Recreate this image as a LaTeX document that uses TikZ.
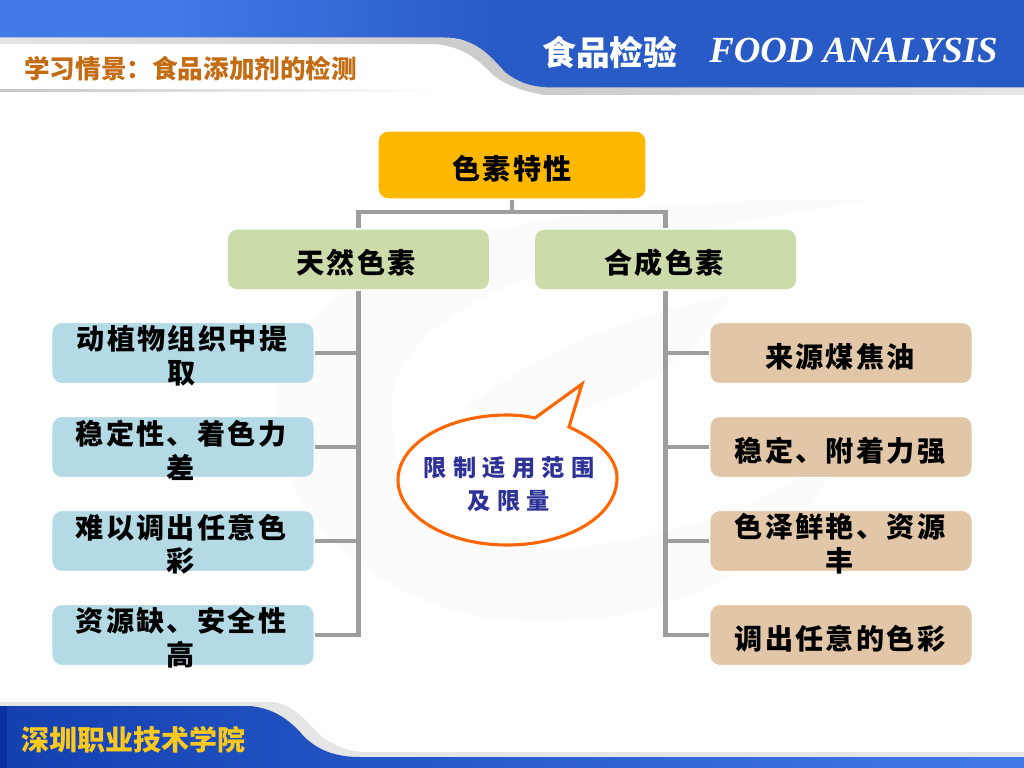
\documentclass[tikz,border=0pt]{standalone}
\usepackage{fontspec}
\setmainfont{Noto Sans CJK SC}
\newfontfamily\boxfont[LetterSpace=8]{Noto Sans CJK SC}
\newfontfamily\notefont[LetterSpace=27]{Noto Sans CJK SC}
\newfontfamily\enfont{Liberation Serif}
\definecolor{barblue}{RGB}{41,91,199}
\definecolor{barlight}{RGB}{66,122,232}
\definecolor{footdark}{RGB}{20,64,176}
\definecolor{footedge}{RGB}{10,50,160}
\definecolor{linegray}{RGB}{158,158,158}
\definecolor{capgold}{RGB}{255,184,0}
\definecolor{headgreen}{RGB}{204,219,170}
\definecolor{leftblue}{RGB}{180,218,230}
\definecolor{rightsand}{RGB}{226,198,168}
\definecolor{tagbrown}{RGB}{196,108,20}
\definecolor{schoolgold}{RGB}{250,200,30}
\definecolor{noteblue}{RGB}{46,50,150}
\definecolor{noteorange}{RGB}{255,102,0}
\definecolor{markgray}{RGB}{251,251,251}
\pgfdeclarehorizontalshading{topbar}{100bp}{color(0bp)=(barlight); color(33bp)=(barlight); color(49bp)=(barblue); color(100bp)=(barblue)}
\tikzset{
	slidebox/.style={shape=rectangle, rounded corners=7pt, draw=white, line width=1pt, minimum width=6.56cm, minimum height=1.53cm},
	capbox/.style={slidebox, fill=capgold, minimum width=6.7cm, minimum height=1.7cm},
	headbox/.style={slidebox, fill=headgreen},
	leftbox/.style={slidebox, fill=leftblue},
	rightbox/.style={slidebox, fill=rightsand},
	boxtext/.style={anchor=center, align=center, inner sep=0pt, font=\boxfont\fontsize{20}{24}\selectfont\bfseries},
	wire/.style={draw=linegray, line width=3pt}
}
\begin{document}
\begin{tikzpicture}[x=0.025cm, y=-0.025cm]
	\useasboundingbox (0,0) rectangle (1024,768);
	% Background mark:
	\fill[markgray] (870,200) .. controls (600,196) and (276,230) .. (276,410) .. controls (276,530) and (400,622) .. (540,622) .. controls (680,622) and (800,560) .. (840,450) .. controls (780,500) and (660,548) .. (540,548) .. controls (450,548) and (391,490) .. (391,410) .. controls (391,290) and (620,240) .. (870,200) -- cycle;
	\fill[markgray] (465,408) .. controls (540,350) and (640,310) .. (730,296) .. controls (700,350) and (640,400) .. (560,412) .. controls (530,410) and (490,412) .. (465,408) -- cycle;
	% Top and bottom bars:
	\fill[gray!40] (0,37) -- (445,37) -- (560,60) -- (1024,87) -- (1024,95) -- (545,95) .. controls (525,92) and (505,85) .. (493,75) .. controls (480,62) and (465,46) .. (433,44) -- (0,44) -- cycle;
	\shade[left color=gray!20, right color=gray!40] (0,37) rectangle (440,44);
	\shade[left color=gray!40, right color=gray!20] (552,87) rectangle (1024,95);
	\shade[shading=topbar] (0,0) -- (1024,0) -- (1024,87.5) -- (552,87.5) .. controls (530,87) and (518,82) .. (505,72) .. controls (490,55) and (475,38) .. (445,37.5) -- (0,37.5) -- cycle;
	\shade[left color=gray!45, right color=white] (0,90) rectangle (440,92);
	\fill[gray!20] (0,702) -- (273,702) .. controls (300,705) and (315,735) .. (327,740) .. controls (340,748) and (350,752) .. (367,752) -- (1024,752) -- (1024,760) -- (300,760) -- (250,720) -- (0,720) -- cycle;
	\shade[left color=footdark, right color=barlight] (0,706) -- (250,706) .. controls (270,708) and (285,716) .. (300,732) .. controls (315,750) and (335,757) .. (360,757) -- (1024,757) -- (1024,768) -- (0,768) -- cycle;
	\fill[footedge] (0,706) rectangle (7,768);
	% Banner texts:
	\node[text=tagbrown, anchor=west, inner sep=0pt, font=\fontsize{18.2}{18.2}\selectfont\bfseries] (tag) at (24,69){学习情景：食品添加剂的检测};
	\node[text=white, anchor=west, inner sep=0pt, font=\fontsize{24}{24}\selectfont\bfseries\itshape] (titlezh) at (542,52){食品检验};
	\node[text=white, anchor=west, inner sep=0pt, font=\enfont\fontsize{26.2}{26.2}\selectfont\bfseries\itshape] (titleen) at (709,50){FOOD ANALYSIS};
	\node[text=schoolgold, anchor=west, inner sep=0pt, font=\fontsize{19.9}{19.9}\selectfont\bfseries] (school) at (21,740){深圳职业技术学院};
	% Boxes and their texts:
	\node[capbox] (cap) at (512,165){} node[boxtext] (captext) at (512,169){色素特性};
	\node[headbox] (natural) at (358.5,259.5){} node[boxtext] (naturaltext) at (356,263){天然色素};
	\node[headbox] (synth) at (665.5,259.5){} node[boxtext] (synthtext) at (664,263){合成色素};
	\node[leftbox] (l1) at (183,353){} node[boxtext] (l1text) at (182,356){动植物组织中提\\取};
	\node[leftbox] (l2) at (183,447){} node[boxtext] (l2text) at (181,450){稳定性、着色力\\差};
	\node[leftbox] (l3) at (183,541){} node[boxtext] (l3text) at (181,544){难以调出任意色\\彩};
	\node[leftbox] (l4) at (183,635){} node[boxtext] (l4text) at (181,638){资源缺、安全性\\高};
	\node[rightbox] (r1) at (841,353){} node[boxtext] (r1text) at (840,357){来源煤焦油};
	\node[rightbox] (r2) at (841,447){} node[boxtext] (r2text) at (840,451){稳定、附着力强};
	\node[rightbox] (r3) at (841,541){} node[boxtext] (r3text) at (840,544){色泽鲜艳、资源\\丰};
	\node[rightbox] (r4) at (841,635){} node[boxtext] (r4text) at (840,639){调出任意的色彩};
	% Wires:
	\coordinate (capjoin) at (512,212);
	\draw[wire] (cap.south) -- (capjoin);
	\draw[wire] (natural.north) |- (capjoin) -| (synth.north);
	\draw[wire] (natural.south) |- (l4.east);
	\draw[wire] (synth.south) |- (r4.west);
	\foreach \item in {l1,l2,l3}
		\draw[wire] (\item.east) -- (\item.east -| natural.south);
	\foreach \item in {r1,r2,r3}
		\draw[wire] (\item.west) -- (\item.west -| synth.south);
	% Callout:
	\draw[noteorange, line width=2.2pt, fill=white, line join=miter] (535,418) -- (582,384) -- (569,427) .. controls (600,441) and (617,459) .. (617,478) .. controls (617,516) and (568,545) .. (507,545) .. controls (447,545) and (398,516) .. (398,480) .. controls (398,444) and (447,415) .. (507,415) .. controls (517,415) and (526,416) .. (535,418) -- cycle;
	\node[text=noteblue, align=center, inner sep=0pt, font=\notefont\fontsize{16.5}{23.5}\selectfont\bfseries] (note) at (509,484){限制适用范围\\及限量};
\end{tikzpicture}
\end{document}
